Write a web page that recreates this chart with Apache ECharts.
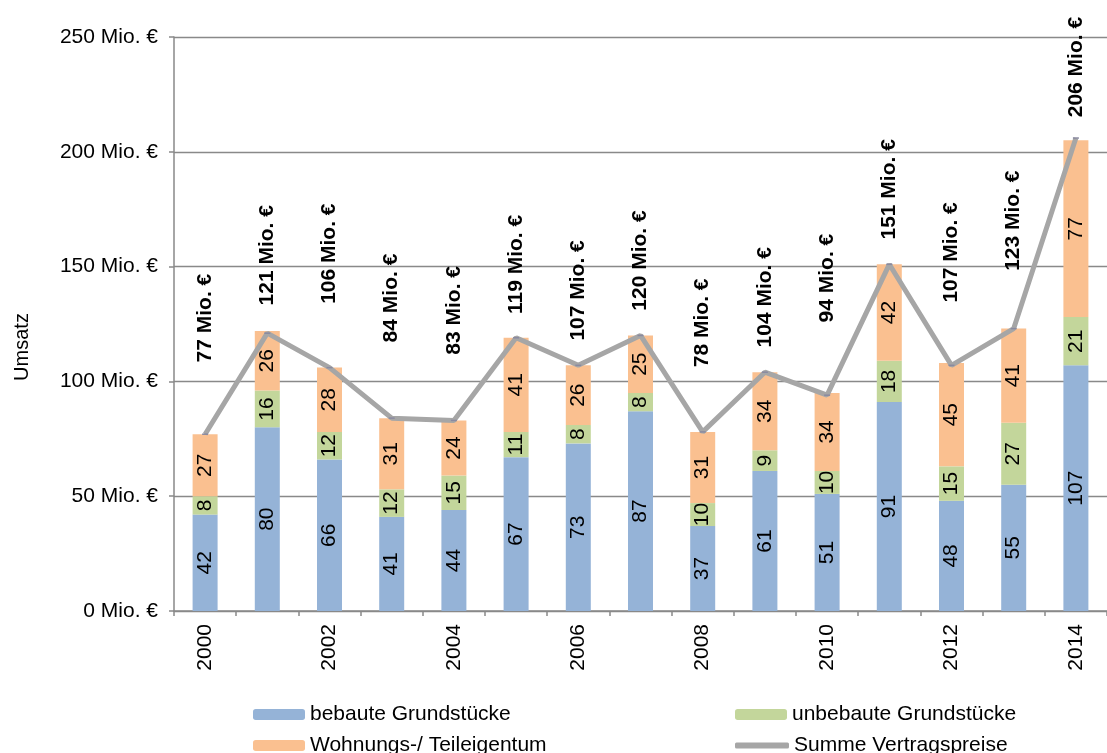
<!DOCTYPE html>
<html>
<head>
<meta charset="utf-8">
<script src="https://cdn.jsdelivr.net/npm/echarts@6/dist/echarts.min.js"></script>
<style>
  html, body { margin: 0; padding: 0; background: #fff; }
  #chart { width: 1107px; height: 753px; }
</style>
</head>
<body>
<div id="chart"></div>
<script>
// Jahre (Kategorien)
const years = ['2000','2001','2002','2003','2004','2005','2006','2007','2008','2009','2010','2011','2012','2013','2014'];

// Umsatz je Teilmarkt in Mio. €
const bebaut     = [42, 80, 66, 41, 44, 67, 73, 87, 37, 61, 51, 91, 48, 55, 107];
const unbebaut   = [8, 16, 12, 12, 15, 11, 8, 8, 10, 9, 10, 18, 15, 27, 21];
const wohnungen  = [27, 26, 28, 31, 24, 41, 26, 25, 31, 34, 34, 42, 45, 41, 77];
const summe      = [77, 121, 106, 84, 83, 119, 107, 120, 78, 104, 94, 151, 107, 123, 206];

// Achsenskala
const yMin = 0, yMax = 250, yStep = 50;

// Abstand der Summen-Beschriftung über der Linie (px)
const sumLabelGap = [71, 27, 63, 75, 65, 23, 24, 24, 64, 24, 72, 24, 62, 57, 20];

const FONT = "'Liberation Sans', Arial, sans-serif";
const GRAY = '#898989';
const LINE_GRAY = '#a6a6a6';

const chart = echarts.init(document.getElementById('chart'), null, { renderer: 'canvas' });

function barSeries(name, values, color) {
  return {
    name: name,
    type: 'bar',
    stack: 'umsatz',
    barWidth: 25,
    data: values,
    itemStyle: { color: color },
    label: {
      show: true,
      position: 'inside',
      rotate: 90,
      color: '#000',
      fontFamily: FONT,
      fontSize: 21
    }
  };
}

function legendItem(name, left, top, extra) {
  return Object.assign({
    data: [name],
    left: left,
    top: top,
    itemWidth: 52,
    itemHeight: 11,
    selectedMode: false,
    textStyle: { color: '#000', fontFamily: FONT, fontSize: 21 }
  }, extra || {});
}

chart.setOption({
  animation: false,
  backgroundColor: '#fff',
  grid: { left: 174, right: -7, top: 37, bottom: 142 },
  legend: [
    legendItem('bebaute Grundstücke', 248, 699),
    legendItem('unbebaute Grundstücke', 730, 699),
    legendItem('Wohnungs-/ Teileigentum', 248, 730),
    legendItem('Summe Vertragspreise', 730, 730, {
      icon: 'roundRect', itemWidth: 54, itemHeight: 6,
      itemStyle: { color: LINE_GRAY }
    })
  ],
  xAxis: {
    type: 'category',
    data: years,
    boundaryGap: true,
    axisLine: { show: true, lineStyle: { color: GRAY, width: 1.5 } },
    axisTick: { show: true, interval: 0, length: 5, lineStyle: { color: GRAY, width: 1.5 } },
    axisLabel: {
      interval: 1,
      rotate: 90,
      margin: 13,
      color: '#000',
      fontFamily: FONT,
      fontSize: 21
    },
    splitLine: { show: false }
  },
  yAxis: {
    type: 'value',
    min: yMin,
    max: yMax,
    interval: yStep,
    name: 'Umsatz',
    nameLocation: 'middle',
    nameRotate: 90,
    nameGap: 142,
    nameTextStyle: { color: '#000', fontFamily: FONT, fontSize: 20, padding: [0, 46, 0, 0] },
    axisLine: { show: true, lineStyle: { color: GRAY, width: 1.5 } },
    axisTick: { show: true, length: 5, lineStyle: { color: GRAY, width: 1.5 } },
    axisLabel: {
      margin: 16,
      color: '#000',
      fontFamily: FONT,
      fontSize: 21,
      formatter: '{value} Mio. €'
    },
    splitLine: { show: true, lineStyle: { color: GRAY, width: 1.3 } }
  },
  series: [
    barSeries('bebaute Grundstücke', bebaut, '#95b3d7'),
    barSeries('unbebaute Grundstücke', unbebaut, '#c3d69b'),
    barSeries('Wohnungs-/ Teileigentum', wohnungen, '#fac090'),
    {
      name: 'Summe Vertragspreise',
      type: 'line',
      z: 5,
      symbol: 'rect',
      symbolSize: [6, 1.5],
      showSymbol: true,
      data: summe.map((v, i) => ({
        value: v,
        label: { distance: sumLabelGap[i] }
      })),
      itemStyle: { color: '#8a8aa0' },
      lineStyle: { color: LINE_GRAY, width: 5 },
      label: {
        show: true,
        position: 'top',
        rotate: 90,
        align: 'left',
        verticalAlign: 'middle',
        color: '#000',
        fontFamily: FONT,
        fontSize: 21,
        fontWeight: 'bold',
        formatter: p => p.value + ' Mio. €'
      },
      labelLayout: { hideOverlap: false }
    }
  ]
});
</script>
</body>
</html>
